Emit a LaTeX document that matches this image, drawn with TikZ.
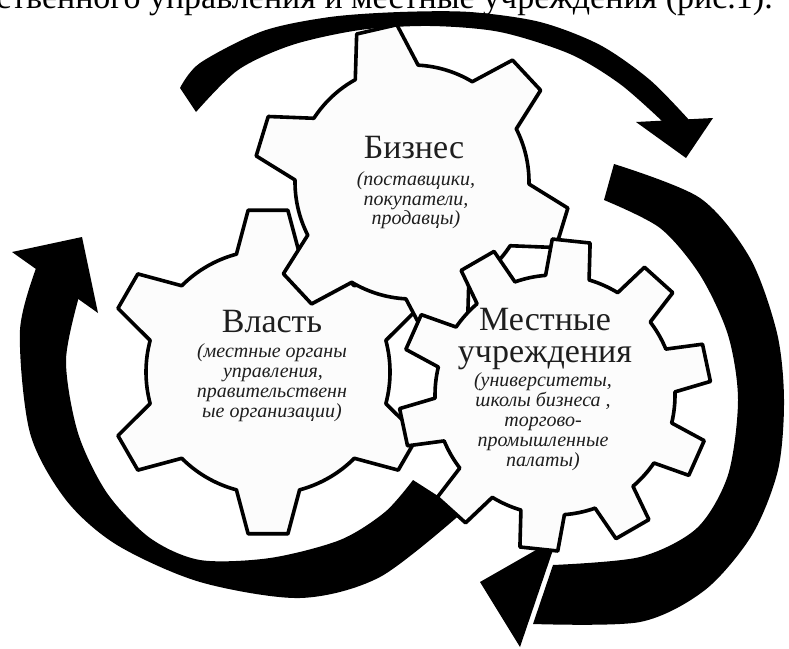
\documentclass[tikz,border=0pt]{standalone}
\usepackage{fontspec}
\usetikzlibrary{shadows}
\setmainfont{Liberation Serif}
\definecolor{gearfill}{HTML}{FCFCFC}
\definecolor{txt}{HTML}{1E1E1E}
\tikzset{
  gearsty/.style={draw=black, line width=3.6pt, fill=gearfill, line join=round,
    drop shadow={shadow xshift=1.5pt, shadow yshift=-1.5pt, opacity=0.25, fill=black}},
  arrowsty/.style={fill=black},
  titlesty/.style={font=\fontsize{34}{36}\selectfont, anchor=base, inner sep=0pt, text=txt},
  descsty/.style={font=\itshape\fontsize{20}{22}\selectfont, anchor=base, inner sep=0pt, text=txt},
}
% cx cy n rin rout a0 basehalf tiphalf
\newcommand{\drawgear}[8]{%
  \pgfmathsetmacro\gstep{360/#3}%
  \pgfmathtruncatemacro\glast{#3-1}%
  \draw[gearsty, shift={(#1,#2)}] ({#6-#7}:#4)
    \foreach \k in {0,...,\glast} {
      -- ({#6+\k*\gstep-#8}:#5) -- ({#6+\k*\gstep+#8}:#5) -- ({#6+\k*\gstep+#7}:#4)
      arc[start angle={#6+\k*\gstep+#7}, end angle={#6+(\k+1)*\gstep-#7}, radius=#4]
    } -- cycle;
}
\begin{document}
\begin{tikzpicture}[x=1pt,y=-1pt]
\useasboundingbox (0,0) rectangle (789,648);
\clip (0,0) rectangle (789,648);
\fill[white] (0,0) rectangle (789,648);

% heading line (cut by the top edge, as in the source)
\node[anchor=base east, inner sep=0pt, font=\fontsize{34}{36}\selectfont] (head) at (773,8) {ственного управления и местные учреждения (рис.1).};

% top arrow
\fill[arrowsty] plot[smooth] coordinates {(180,88) (200,63) (263,31) (330,17) (400,12) (470,12) (540,22) (600,45) (650,80) (690,121)}
  -- plot[smooth] coordinates {(662,121) (620,84) (570,54) (500,32) (430,26) (360,30) (292,45) (238,70) (196,112)} -- cycle;
\fill[arrowsty] (636,122) -- (713,118) -- (686,158) -- cycle;

% right arrow
\fill[arrowsty] plot[smooth] coordinates {(614,164) (700,198) (750,258) (777,333) (784,400) (778,470) (752,535) (705,590) (640,622) (533,624)}
  -- plot[smooth] coordinates {(553,565) (640,557) (697,528) (728,475) (738,400) (728,335) (700,275) (660,228) (604,200)} -- cycle;
\fill[arrowsty] (557,538) -- (480,582) -- (520,647) -- cycle;

% left arrow
\fill[arrowsty] plot[smooth] coordinates {(413,480) (385,512) (340,540) (270,558) (200,560) (150,538) (107,493) (78,433) (66,360) (80,293)}
  -- plot[smooth] coordinates {(38,263) (20,330) (30,433) (66,500) (117,545) (200,582) (300,598) (380,577) (463,512)} -- cycle;
\fill[arrowsty] (12,252) -- (82,237) -- (98,313) -- cycle;

% gears
\drawgear{268}{372}{6}{122}{163}{150}{15}{7}
\drawgear{412}{182}{6}{117}{158}{-103}{16}{7.5}
\drawgear{555}{395}{10}{120}{156}{-12}{10.5}{7}

% texts
\node[titlesty] (biz) at (414,158) {Бизнес};
\node[descsty] (biz1) at (416,185) {(поставщики,};
\node[descsty] (biz2) at (416,205) {покупатели,};
\node[descsty] (biz3) at (416,224) {продавцы)};

\node[titlesty] (pow) at (272,332) {Власть};
\node[descsty] (pow1) at (272,357) {(местные органы};
\node[descsty] (pow2) at (273,377) {управления,};
\node[descsty] (pow3) at (272,397) {правительственн};
\node[descsty] (pow4) at (272,417) {ые организации)};

\node[titlesty] (loc) at (545,330) {Местные};
\node[titlesty] (loc0) at (545,362) {учреждения};
\node[descsty] (loc1) at (543,386) {(университеты,};
\node[descsty] (loc2) at (543,406) {школы бизнеса ,};
\node[descsty] (loc3) at (543,426) {торгово-};
\node[descsty] (loc4) at (543,446) {промышленные};
\node[descsty] (loc5) at (543,466) {палаты)};
\end{tikzpicture}
\end{document}
